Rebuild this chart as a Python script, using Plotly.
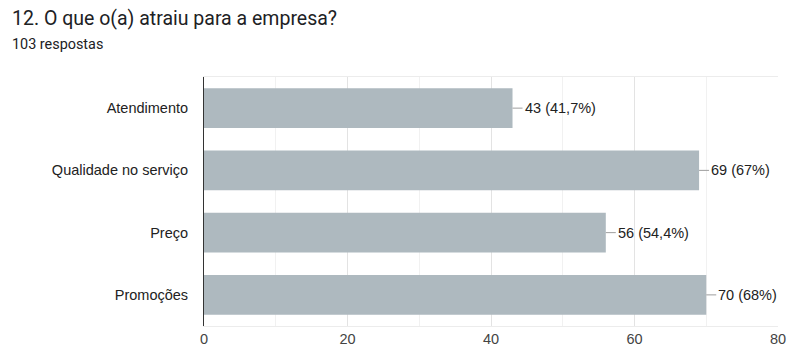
import plotly.graph_objects as go

categories = ["Atendimento", "Qualidade no serviço", "Preço", "Promoções"]
counts = [43, 69, 56, 70]
percent_labels = ["41,7%", "67%", "54,4%", "68%"]
tick_vals = [0, 20, 40, 60, 80]

title_text = "12. O que o(a) atraiu para a empresa?"
subtitle_text = "103 respostas"

bar_color = "#aeb9bf"
W, H = 788, 351
L, R, T, B = 204, 10, 77, 25
PW, PH = W - L - R, H - T - B

fig = go.Figure()
fig.add_trace(go.Bar(
    y=categories, x=counts, orientation="h",
    marker=dict(color=bar_color, line=dict(width=0)),
    width=0.64, hoverinfo="skip",
))

for c, v, p in zip(categories, counts, percent_labels):
    fig.add_annotation(
        x=v, y=c, xref="x", yref="y",
        text=f"{v} ({p})", showarrow=True, arrowhead=0, arrowwidth=1,
        arrowcolor="#9e9e9e", ax=10, ay=0, xanchor="left",
        font=dict(family="Liberation Sans, Arial", size=14.5, color="#222222"),
    )

fig.add_annotation(text=title_text, xref="paper", yref="paper",
                   x=(10 - L) / PW, y=1 + (T - 18.5) / PH, showarrow=False,
                   xanchor="left", yanchor="middle",
                   font=dict(family="Roboto", size=19.5, color="#202124"))
fig.add_annotation(text=subtitle_text, xref="paper", yref="paper",
                   x=(10 - L) / PW, y=1 + (T - 45) / PH, showarrow=False,
                   xanchor="left", yanchor="middle",
                   font=dict(family="Roboto", size=14.4, color="#202124"))

fig.update_layout(
    width=W, height=H,
    margin=dict(l=L, r=R, t=T, b=B),
    paper_bgcolor="white", plot_bgcolor="white",
    showlegend=False,
    xaxis=dict(range=[0, 80], tickvals=tick_vals, ticks="", automargin=False,
               showline=True, linecolor="#ececec", linewidth=1, mirror=True,
               showgrid=True, gridcolor="#e3e3e3", gridwidth=1,
               minor=dict(dtick=10, showgrid=True, gridcolor="#f1f1f1"),
               zeroline=False,
               tickfont=dict(family="Liberation Sans, Arial", size=14.5, color="#444444")),
    yaxis=dict(autorange="reversed", showline=True, linecolor="#333333", linewidth=1,
               ticks="", ticklabelstandoff=12, showgrid=False, automargin=False,
               tickfont=dict(family="Liberation Sans, Arial", size=14.5, color="#222222")),
)
fig.write_html("out.html", config={"displayModeBar": False},
               post_script="document.body.style.margin='0px';")
